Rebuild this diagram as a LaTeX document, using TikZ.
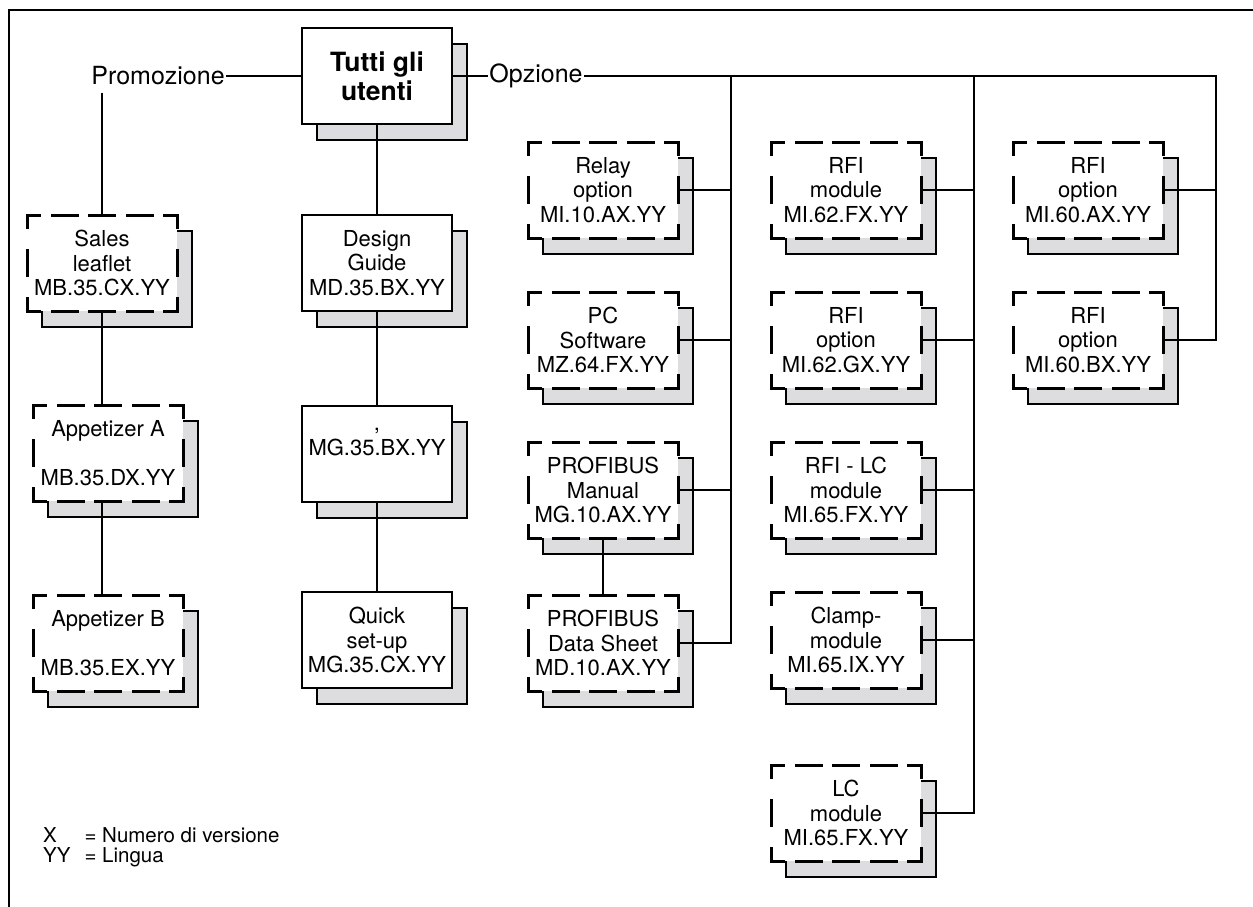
\documentclass[tikz,border=0pt]{standalone}
\usepackage{fontspec}
\setmainfont{TeX Gyre Heros}
\usetikzlibrary{positioning, shadows}

\definecolor{shadowgray}{RGB}{221,221,223}
\newcommand{\boxfont}{\fontsize{22}{24.5}\selectfont}
\newcommand{\topfont}{\bfseries\fontsize{26.5}{29}\selectfont}
\newcommand{\labelfont}{\fontsize{25}{28}\selectfont}
\newcommand{\legendfont}{\fontsize{20.5}{20}\selectfont}

\begin{document}
\begin{tikzpicture}[
    x=1pt, y=-1pt,
    docbox/.style={rectangle, fill=white, minimum width=150pt, minimum height=96pt,
        inner sep=0pt, outer sep=0pt, align=center, font=\boxfont,
        general shadow={shadow xshift=15pt, shadow yshift=-16pt,
            fill=shadowgray, draw=black, line width=1.1pt}},
    solidbox/.style={docbox, draw, line width=1.3pt},
    optbox/.style={docbox},
    hside/.style={line width=3pt, line cap=rect, dash pattern=on 25pt off 12.5pt, dash phase=12.5pt},
    vside/.style={line width=3pt, line cap=rect, dash pattern=on 25pt off 23pt, dash phase=12.5pt},
    link/.style={line width=1.1pt},
    plain/.style={font=\labelfont, inner sep=1pt}
]
\useasboundingbox (0,0) rectangle (1253,907);
\draw[line width=1.3pt] (9,907) -- (9,10) -- (1253,10);

% Top row
\node[solidbox, font=\topfont] (main) at (377,76) {Tutti gli\\utenti};
\node[plain] (promo) at (158,76) {Promozione};
\node[plain] (opz) at (536,76) {Opzione};

% Promozione column
\node[optbox] (sales) at (102,263) {Sales\\leaflet\\MB.35.CX.YY};
\node[optbox] (appa) at (108,453) {Appetizer A\\[24.5pt]MB.35.DX.YY};
\node[optbox] (appb) at (108,643) {Appetizer B\\[24.5pt]MB.35.EX.YY};

% Main column
\node[solidbox] (design) at (377,263) {Design\\Guide\\MD.35.BX.YY};
\node[solidbox] (mg) at (377,454) {,\\MG.35.BX.YY\\\mbox{}};
\node[solidbox] (quick) at (377,640) {Quick\\set-up\\MG.35.CX.YY};

% Opzione columns
\node[optbox] (relay) at (603,190) {Relay\\option\\MI.10.AX.YY};
\node[optbox] (pcsw) at (603,340) {PC\\Software\\MZ.64.FX.YY};
\node[optbox] (pbman) at (603,490) {PROFIBUS\\Manual\\MG.10.AX.YY};
\node[optbox] (pbdata) at (603,643) {PROFIBUS\\Data Sheet\\MD.10.AX.YY};

\node[optbox] (rfimod) at (846,190) {RFI\\module\\MI.62.FX.YY};
\node[optbox] (rfigx) at (846,340) {RFI\\option\\MI.62.GX.YY};
\node[optbox] (rfilc) at (846,490) {RFI - LC\\module\\MI.65.FX.YY};
\node[optbox] (clamp) at (846,640) {Clamp-\\module\\MI.65.IX.YY};
\node[optbox] (lcmod) at (846,813) {LC\\module\\MI.65.FX.YY};

\node[optbox] (rfiax) at (1088,190) {RFI\\option\\MI.60.AX.YY};
\node[optbox] (rfibx) at (1088,340) {RFI\\option\\MI.60.BX.YY};

% Dashed borders
\foreach \n in {sales, appa, appb, relay, pcsw, pbman, pbdata, rfimod, rfigx, rfilc, clamp, lcmod, rfiax, rfibx} {
  \draw[hside] (\n.north west) -- (\n.north east);
  \draw[hside] (\n.south west) -- (\n.south east);
  \draw[vside] (\n.north west) -- (\n.south west);
  \draw[vside] (\n.north east) -- (\n.south east);
}

% Buses
\coordinate (busC) at (731,76);
\coordinate (busD) at (974,76);
\coordinate (busE) at (1216,76);

% Connectors
\draw[link] (promo.east) -- (main.west);
\draw[link] (main.east) -- (opz.west);
\draw[link] ([yshift=-6pt]sales.north |- promo.south) -- (sales.north);
\draw[link] (sales.south) -- (sales.south |- appa.north);
\draw[link] (appa.south -| sales.south) -- (sales.south |- appb.north);
\draw[link] (main.south) -- (design.north);
\draw[link] (design.south) -- (mg.north);
\draw[link] (mg.south) -- (quick.north);
\draw[link] (pbman.south) -- (pbdata.north);

\draw[link] (opz.east) -- (busE) -- (busE |- rfibx.east) -- (rfibx.east);
\draw[link] (busC) -- (busC |- pbdata.east) -- (pbdata.east);
\draw[link] (busD) -- (busD |- lcmod.east) -- (lcmod.east);
\foreach \n in {relay, pcsw, pbman}
  \draw[link] (\n.east) -- (\n.east -| busC);
\foreach \n in {rfimod, rfigx, rfilc, clamp}
  \draw[link] (\n.east) -- (\n.east -| busD);
\draw[link] (rfiax.east) -- (rfiax.east -| busE);

% Legend
\node[anchor=west, font=\legendfont, inner sep=0pt] (legend) at (43,848)
  {\begin{tabular}{@{}l@{\hspace{14pt}}l@{}}X & = Numero di versione\\YY & = Lingua\end{tabular}};
\end{tikzpicture}
\end{document}
